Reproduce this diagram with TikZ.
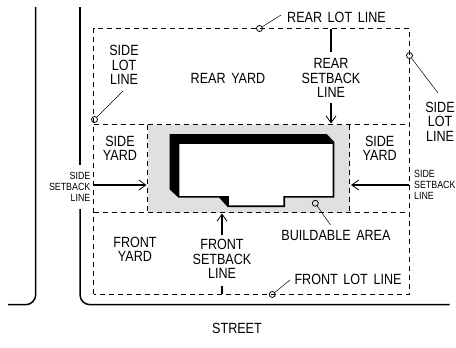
\documentclass[tikz,border=0pt]{standalone}
\usepackage{fontspec}
\setmainfont[FakeStretch=0.85,WordSpace=1.6]{Liberation Sans}
\usetikzlibrary{positioning,arrows.meta}

\begin{document}
\begin{tikzpicture}[x=1pt, y=-1pt,
  lbl/.style={align=center, inner sep=0pt, font=\fontsize{14.8}{14.6}\selectfont},
  small/.style={inner sep=0pt, font=\fontsize{10.4}{11}\selectfont},
  lotline/.style={dash pattern=on 5pt off 4pt, line width=0.8pt},
  road/.style={line width=1.5pt, rounded corners=10pt},
  arr/.style={line width=1.2pt, -{Straight Barb[length=7pt,width=10pt,line width=0.8pt]}},
  leader/.style={line width=0.5pt},
  pin/.style={draw, circle, line width=0.8pt, minimum size=6pt, inner sep=0pt}]
\useasboundingbox (0,0) rectangle (456,348);
% roads
\coordinate (r1) at (35.7,7);
\coordinate (r2) at (35.7,304.7);
\coordinate (r3) at (8,304.7);
\draw[road] (r1) -- (r2) -- (r3);
\coordinate (s1) at (80,7);
\coordinate (s2) at (80,165);
\draw[road] (s1) -- (s2);
\coordinate (s3) at (80,209);
\coordinate (s4) at (80,304.7);
\coordinate (s5) at (449.7,304.7);
\draw[road] (s3) -- (s4) -- (s5);
% buildable area
\fill[black!12] (147.5,124.5) rectangle (349.6,212.5);
% lot and setback lines
\draw[lotline] (93.5,294) -- (93.5,28.5) -- (409.7,28.5) -- (409.7,294) -- cycle;
\draw[lotline] (93.5,124.5) -- (409.7,124.5);
\draw[lotline] (93.5,212.5) -- (409.7,212.5);
\draw[lotline] (147.5,124.5) -- (147.5,212.5);
\draw[lotline] (349.6,124.5) -- (349.6,212.5);
% house
\fill (169.5,134) -- (326.7,134) -- (334.3,142) -- (334.3,197.5) -- (285,197.5) -- (285,207)
  -- (227.7,207) -- (219,197.5) -- (178.3,197.5) -- (169.5,189.3) -- cycle;
\fill[white] (179.3,144) -- (332.6,144) -- (332.6,195.8) -- (283.4,195.8) -- (283.4,205.4)
  -- (229,205.4) -- (229,195.8) -- (179.3,195.8) -- cycle;
% labels
\node[lbl] (sidelotl) at (124,65) {SIDE\\LOT\\LINE};
\node[lbl] (rearyard) at (228,78) {REAR YARD};
\node[lbl] (rearset) at (331,78) {REAR\\SETBACK\\LINE};
\node[lbl] (rearlot) at (336.5,17) {REAR LOT LINE};
\node[lbl] (sidelotr) at (440,121.5) {SIDE\\LOT\\LINE};
\node[lbl] (sideyardl) at (120,148.5) {SIDE\\YARD};
\node[lbl] (sideyardr) at (379.7,148.5) {SIDE\\YARD};
\node[small, align=right, anchor=east] (sidesetl) at (90.5,187) {SIDE\\SETBACK\\LINE};
\node[small, align=left, anchor=west] (sidesetr) at (414,185) {SIDE\\SETBACK\\LINE};
\node[lbl] (frontyard) at (135,249.5) {FRONT\\YARD};
\node[lbl] (frontset) at (222,259) {FRONT\\SETBACK\\LINE};
\node[lbl] (buildable) at (336,235) {BUILDABLE AREA};
\node[lbl] (frontlot) at (348,279) {FRONT LOT LINE};
\node[lbl] (street) at (237,328) {STREET};
% pins
\node[pin] (p1) at (94.5,119.5) {};
\node[pin] (p2) at (259.5,28.5) {};
\node[pin] (p3) at (409.5,55.5) {};
\node[pin] (p4) at (315.3,203.3) {};
\node[pin] (p5) at (272.3,294.5) {};
% leaders
\coordinate (l1) at (123,91);
\coordinate (l2) at (281,15);
\coordinate (l3) at (438,93);
\coordinate (l4) at (330.5,225);
\coordinate (l5) at (290,280);
\draw[leader] (l1) -- (p1);
\draw[leader] (l2) -- (p2);
\draw[leader] (l3) -- (p3);
\draw[leader] (l4) -- (p4);
\draw[leader] (l5) -- (p5);
% arrows
\coordinate (a1) at (331,29);
\coordinate (a1b) at (331,52);
\draw[line width=1.2pt] (a1) -- (a1b);
\coordinate (a2) at (331,123.5);
\coordinate (a2b) at (331,103);
\draw[arr] (a2b) -- (a2);
\coordinate (a3) at (94,185);
\coordinate (a4) at (146.5,185);
\draw[arr] (a3) -- (a4);
\coordinate (a5) at (409,185);
\coordinate (a6) at (351,185);
\draw[arr] (a5) -- (a6);
\coordinate (a7) at (222,213.5);
\coordinate (a7b) at (222,235);
\draw[arr] (a7b) -- (a7);
\coordinate (a8) at (222,294);
\coordinate (a8b) at (222,286);
\draw[line width=1.2pt] (a8b) -- (a8);
\end{tikzpicture}
\end{document}
